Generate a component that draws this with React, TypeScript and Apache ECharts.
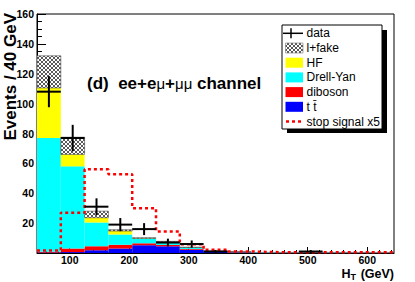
import React, { useEffect, useRef } from "react";
import * as echarts from "echarts";

// Bin edges (GeV) of the HT histogram
const binEdges = [45, 85, 125, 165, 205, 245, 285, 325, 365, 405, 445, 485, 525, 565, 605, 645];
// Background components (per bin, not cumulative), stacked bottom -> top
const ttbar = [0.3, 0.6, 1.8, 3.0, 5.2, 4.5, 2.2, 0.7, 0.4, 0.2, 0.1, 0.1, 0.1, 0.05, 0.05];
const diboson = [0.5, 2.4, 2.8, 2.6, 1.3, 0.9, 0.5, 0.2, 0.1, 0.1, 0.05, 0.05, 0, 0, 0];
const drellYan = [76.2, 55, 15.9, 6.8, 3.0, 1.9, 0.9, 0.2, 0.3, 0.4, 0.2, 0.2, 0.2, 0.1, 0.1];
const hf = [33.5, 8, 3.1, 2.3, 0.3, 0.2, 0.1, 0.05, 0, 0, 0, 0, 0, 0, 0];
const lFake = [21.5, 11.5, 4.4, 0.9, 0.4, 0.3, 0.2, 0.1, 0.05, 0, 0, 0, 0, 0, 0];
// Observed data and its error bars
const dataCounts = [108, 77, 31, 19, 16, 7, 6, 1, 0, 0, 0, 1, 0, 0, 0];
const dataErrors = [10.4, 8.8, 5.6, 4.4, 4.0, 2.6, 2.4, 1.0, 0, 0, 0, 1.0, 0, 0, 0];
// Stop signal x5
const signal = [1.7, 27, 56, 52.8, 30, 14.4, 5.8, 2.2, 1.0, 0.6, 0.5, 0.5, 0.5, 0.5, 0.5];

const xMajorTicks = [100, 200, 300, 400, 500, 600];
const xMinorTicks = [60, 80, 120, 140, 160, 180, 220, 240, 260, 280, 320, 340, 360, 380, 420, 440, 460, 480, 520, 540, 560, 580, 620, 640];

const FONT = "'Liberation Sans', Arial, Helvetica, sans-serif";

function makeHatch(): any {
  const c = document.createElement("canvas");
  c.width = 4;
  c.height = 4;
  const ctx = c.getContext("2d")!;
  ctx.fillStyle = "#ffffff";
  ctx.fillRect(0, 0, 4, 4);
  ctx.fillStyle = "#5a5a5a";
  for (let i = 0; i < 4; i++) {
    ctx.fillRect(i, i, 1, 1);
    ctx.fillRect(3 - i, i, 1, 1);
  }
  return { image: c.toDataURL(), repeat: "repeat", imageWidth: 4, imageHeight: 4 };
}

export default function App() {
  const ref = useRef<HTMLDivElement>(null);

  useEffect(() => {
    if (!ref.current) return;
    const chart = echarts.init(ref.current, null, { renderer: "svg" });
    const hatch = makeHatch();

    const layers = [
      { name: "t tbar", vals: ttbar, fill: "#0000ff" },
      { name: "diboson", vals: diboson, fill: "#ff0000" },
      { name: "Drell-Yan", vals: drellYan, fill: "#00ffff" },
      { name: "HF", vals: hf, fill: "#ffff00" },
      { name: "l+fake", vals: lFake, fill: hatch },
    ];
    const cum = new Array(ttbar.length).fill(0);
    const stackSeries = layers.map((layer) => {
      const rows = layer.vals.map((v, i) => {
        const base = cum[i];
        cum[i] = base + v;
        return [binEdges[i], binEdges[i + 1], base, cum[i]];
      });
      const isHatch = layer.name === "l+fake";
      return {
        type: "custom",
        name: layer.name,
        xAxisIndex: 0,
        yAxisIndex: 0,
        encode: { x: [0, 1], y: [2, 3] },
        data: rows,
        clip: true,
        z: 2,
        renderItem: (params: any, api: any) => {
          const lo = api.value(0);
          const hi = api.value(1);
          const b = api.value(2);
          const t = api.value(3);
          if (t - b <= 0) return null;
          const p1 = api.coord([lo, t]);
          const p2 = api.coord([hi, b]);
          return {
            type: "rect",
            shape: { x: p1[0], y: p1[1], width: p2[0] - p1[0], height: p2[1] - p1[1] },
            style: isHatch
              ? { fill: layer.fill, stroke: "#444", lineWidth: 0.6 }
              : { fill: layer.fill },
          };
        },
      };
    });

    const signalPts: number[][] = [];
    signal.forEach((v, i) => {
      signalPts.push([binEdges[i], v]);
      signalPts.push([binEdges[i + 1], v]);
    });

    const dataRows = dataCounts.map((v, i) => [binEdges[i], binEdges[i + 1], v, dataErrors[i]]);

    const legendTop = 33.3;
    const legendStep = 14.7;
    const rowY = (i: number) => legendTop + i * legendStep;
    const legendNames = ["data", "l+fake", "HF", "Drell-Yan", "diboson", "t t\u0304", "stop signal x5"];
    const swatchFills: any[] = [null, hatch, "#ffff00", "#00ffff", "#ff0000", "#0000ff", null];

    const legendEls: any[] = [
      { type: "rect", shape: { x: 287, y: 30, width: 100, height: 103 }, style: { fill: "#000" }, z: 10 },
      { type: "rect", shape: { x: 282, y: 25, width: 100, height: 104 }, style: { fill: "#fff", stroke: "#000", lineWidth: 1 }, z: 11 },
      { type: "line", shape: { x1: 283, y1: rowY(0), x2: 303, y2: rowY(0) }, style: { stroke: "#000", lineWidth: 1.5 }, z: 12 },
      { type: "line", shape: { x1: 291, y1: rowY(0) - 5, x2: 291, y2: rowY(0) + 5 }, style: { stroke: "#000", lineWidth: 1.5 }, z: 12 },
      { type: "line", shape: { x1: 286, y1: rowY(6), x2: 304, y2: rowY(6) }, style: { stroke: "#ff0000", lineWidth: 2.5, lineDash: [3, 3] }, z: 12 },
    ];
    swatchFills.forEach((f, i) => {
      if (!f) return;
      legendEls.push({
        type: "rect",
        shape: { x: 285.5, y: rowY(i) - 5, width: 17.5, height: 10 },
        style: i === 1 ? { fill: f, stroke: "#777", lineWidth: 0.6 } : { fill: f },
        z: 12,
      });
    });
    legendNames.forEach((n, i) => {
      legendEls.push({
        type: "text",
        x: 306.5,
        y: rowY(i),
        style: { text: n, fontFamily: FONT, fontSize: 12, fill: "#000", verticalAlign: "middle", align: "left" },
        z: 12,
      });
    });

    const titleStyle = { fontFamily: FONT, fontWeight: "bold", fill: "#000", verticalAlign: "middle" };

    const option: any = {
      animation: false,
      backgroundColor: "#fff",
      grid: {
        left: 37,
        right: 21,
        top: 14,
        bottom: 29,
        show: true,
        borderColor: "#000",
        borderWidth: 1,
        backgroundColor: "#fff",
        containLabel: false,
        outerBoundsMode: "none",
      },
      xAxis: [
        {
          type: "value",
          min: 45,
          max: 645,
          axisLine: { show: true, lineStyle: { color: "#000", width: 1 } },
          axisTick: { show: true, inside: true, length: 6, customValues: xMajorTicks, lineStyle: { color: "#000" } },
          axisLabel: {
            show: true,
            customValues: xMajorTicks,
            margin: 2,
            lineHeight: 10,
            color: "#000",
            fontFamily: FONT,
            fontWeight: "bold",
            fontSize: 10.5,
          },
          splitLine: { show: false },
        },
        {
          type: "value",
          min: 45,
          max: 645,
          position: "bottom",
          axisLine: { show: false },
          axisTick: { show: true, inside: true, length: 3, customValues: xMinorTicks, lineStyle: { color: "#000" } },
          axisLabel: { show: false },
          splitLine: { show: false },
        },
      ],
      yAxis: {
        type: "value",
        min: 0,
        max: 160,
        interval: 20,
        axisLine: { show: true, lineStyle: { color: "#000", width: 1 } },
        axisTick: { show: true, inside: true, length: 9, lineStyle: { color: "#000" } },
        minorTick: { show: true, splitNumber: 4, length: 5, lineStyle: { color: "#000" } },
        axisLabel: {
          margin: 3,
          color: "#000",
          fontFamily: FONT,
          fontWeight: "bold",
          fontSize: 10.5,
          formatter: (v: number) => (v === 0 ? "" : String(v)),
        },
        splitLine: { show: false },
      },
      graphic: [
        {
          type: "text",
          x: 10,
          y: 13,
          rotation: Math.PI / 2,
          style: { ...titleStyle, text: "Events / 40 GeV", fontSize: 17, align: "right" },
        },
        {
          type: "text",
          x: 394,
          y: 274,
          style: { ...titleStyle, text: "(GeV)", fontSize: 12.5, lineHeight: 11, align: "right" },
        },
        {
          type: "text",
          x: 356,
          y: 277,
          style: { ...titleStyle, text: "T", fontSize: 9, lineHeight: 8, align: "right" },
        },
        {
          type: "text",
          x: 350.5,
          y: 274,
          style: { ...titleStyle, text: "H", fontSize: 12.5, lineHeight: 11, align: "right" },
        },
        {
          type: "text",
          x: 87,
          y: 83,
          style: {
            text: "{a|(d)  ee+e}{m|\u03bc}{a|+}{m|\u03bc\u03bc}{a| channel}",
            align: "left",
            verticalAlign: "middle",
            rich: {
              a: { fontFamily: FONT, fontWeight: "bold", fontSize: 17, fill: "#000" },
              m: { fontFamily: FONT, fontWeight: "normal", fontSize: 15, fill: "#000" },
            },
          },
        },
        ...legendEls,
      ],
      series: [
        ...stackSeries,
        {
          type: "line",
          name: "stop signal x5",
          data: signalPts,
          xAxisIndex: 0,
          yAxisIndex: 0,
          symbol: "none",
          silent: true,
          z: 3,
          lineStyle: { color: "#ff0000", width: 2.5, type: [3, 3] },
        },
        {
          type: "custom",
          name: "data",
          xAxisIndex: 0,
          yAxisIndex: 0,
          encode: { x: [0, 1], y: 2 },
          data: dataRows,
          z: 4,
          renderItem: (params: any, api: any) => {
            const lo = api.value(0);
            const hi = api.value(1);
            const v = api.value(2);
            const e = api.value(3);
            if (v <= 0) return null;
            const c = (lo + hi) / 2;
            const pL = api.coord([lo, v]);
            const pR = api.coord([hi, v]);
            const pT = api.coord([c, v + e]);
            const pB = api.coord([c, Math.max(0, v - e)]);
            return {
              type: "group",
              children: [
                { type: "line", shape: { x1: pL[0], y1: pL[1], x2: pR[0], y2: pR[1] }, style: { stroke: "#000", lineWidth: 2 } },
                { type: "line", shape: { x1: pT[0], y1: pT[1], x2: pB[0], y2: pB[1] }, style: { stroke: "#000", lineWidth: 2 } },
              ],
            };
          },
        },
      ],
    };

    chart.setOption(option);
    return () => chart.dispose();
  }, []);

  return <div ref={ref} style={{ position: "fixed", left: 0, top: 0, width: 415, height: 282 }} />;
}
